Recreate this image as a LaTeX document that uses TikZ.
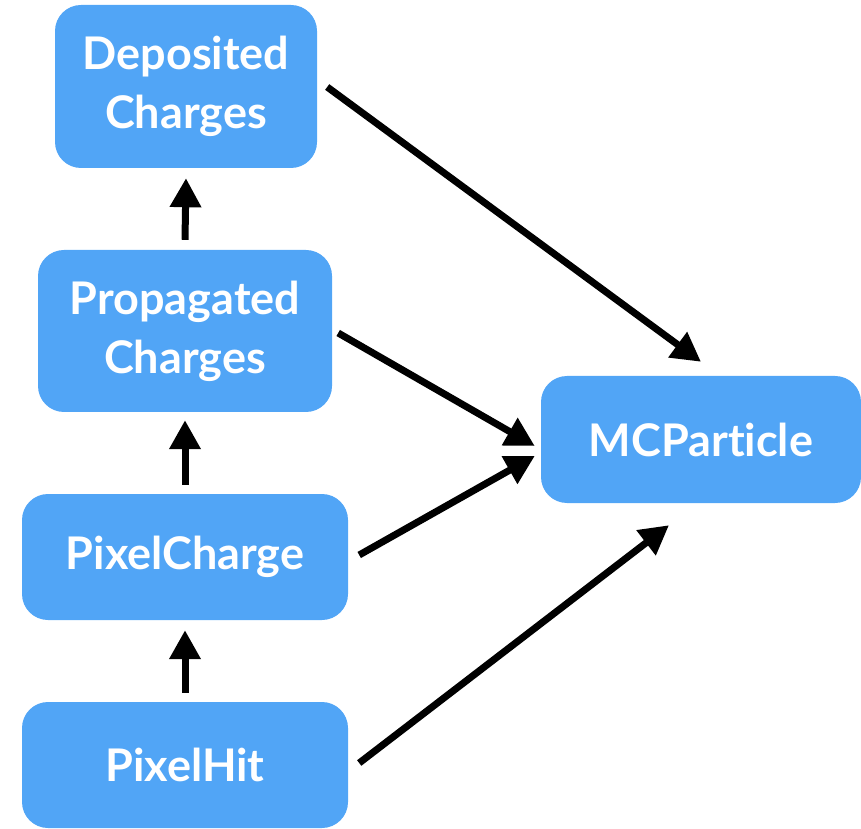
\documentclass[tikz,border=0pt]{standalone}
\usepackage{fontspec}
\setmainfont[Ligatures=NoCommon]{Lato}
\usetikzlibrary{arrows.meta,calc}
\definecolor{boxblue}{RGB}{81,165,246}
\tikzset{
  box/.style={fill=boxblue, draw=none, rounded corners=26pt, align=center,
    text=white, font=\bfseries\fontsize{45}{59}\selectfont, inner sep=0pt},
  arr/.style={line width=7pt, -{Triangle[length=29pt,width=30pt]}}
}
\begin{document}
\begin{tikzpicture}[x=1pt,y=1pt]
\useasboundingbox (0,0) rectangle (861,828);
\node[box, minimum width=262pt, minimum height=163pt] (dep) at (186,741.5) {Deposited\\Charges};
\node[box, minimum width=294pt, minimum height=162pt] (prop) at (185,497) {Propagated\\Charges};
\node[box, minimum width=326pt, minimum height=126pt] (pc) at (185,271) {PixelCharge};
\node[box, minimum width=326pt, minimum height=126pt] (ph) at (185,63) {PixelHit};
\node[box, minimum width=320pt, minimum height=127pt] (mc) at (701,388.5) {MCParticle};
\draw[arr] ([shift={(10,-0.5)}]dep.east) -- ([shift={(0,14)}]mc.north);
\draw[arr] ([shift={(6,-2)}]prop.east) -- ([shift={(-6,-6.5)}]mc.west);
\draw[arr] ([shift={(11,2)}]pc.east) -- ([shift={(-6,-16.5)}]mc.west);
\draw[arr] ([shift={(11,2)}]ph.east) -- ([shift={(-32,-22)}]mc.south);
\draw[arr] ([yshift=10pt]prop.north) -- ([yshift=-10pt]dep.south);
\draw[arr] ([yshift=9pt]pc.north) -- ([yshift=-8pt]prop.south);
\draw[arr] ([yshift=9pt]ph.north) -- ([yshift=-10pt]pc.south);
\end{tikzpicture}
\end{document}
